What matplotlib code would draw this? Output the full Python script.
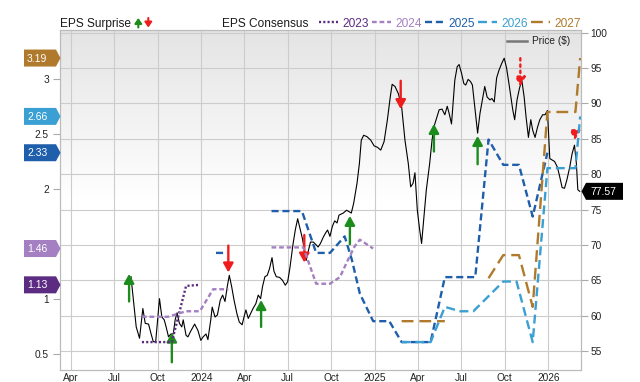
import numpy as np
import pandas as pd
import matplotlib
matplotlib.use('Agg')
import matplotlib.pyplot as plt
import matplotlib.dates as mdates
from matplotlib.ticker import FuncFormatter
from matplotlib.patches import Polygon, FancyArrowPatch
from matplotlib.lines import Line2D

plt.rcParams['font.family'] = ['Liberation Sans', 'DejaVu Sans']

# ---- price ($), right axis ----
price_dates = [
    "2023-08-06", "2023-08-17", "2023-08-24", "2023-08-31", "2023-09-05", "2023-09-12", "2023-09-17", "2023-09-22", "2023-09-27", "2023-10-01",
    "2023-10-05", "2023-10-10", "2023-10-15", "2023-10-19", "2023-10-24", "2023-10-29", "2023-11-03", "2023-11-07", "2023-11-11", "2023-11-16",
    "2023-11-21", "2023-11-24", "2023-11-30", "2023-12-04", "2023-12-09", "2023-12-18", "2023-12-25", "2023-12-31", "2024-01-05", "2024-01-11",
    "2024-01-15", "2024-01-21", "2024-01-24", "2024-01-30", "2024-02-04", "2024-02-10", "2024-02-15", "2024-02-20", "2024-02-25", "2024-02-29",
    "2024-03-05", "2024-03-10", "2024-03-16", "2024-03-21", "2024-03-27", "2024-03-31", "2024-04-04", "2024-04-09", "2024-04-14", "2024-04-19",
    "2024-04-25", "2024-04-30", "2024-05-05", "2024-05-09", "2024-05-14", "2024-05-19", "2024-05-24", "2024-05-29", "2024-06-02", "2024-06-07",
    "2024-06-14", "2024-06-20", "2024-06-26", "2024-07-01", "2024-07-06", "2024-07-12", "2024-07-17", "2024-07-22", "2024-07-27", "2024-08-01",
    "2024-08-06", "2024-08-09", "2024-08-14", "2024-08-18", "2024-08-24", "2024-08-30", "2024-09-03", "2024-09-08", "2024-09-14", "2024-09-19",
    "2024-09-23", "2024-09-28", "2024-10-03", "2024-10-08", "2024-10-13", "2024-10-17", "2024-10-26", "2024-11-02", "2024-11-07", "2024-11-12",
    "2024-11-17", "2024-11-24", "2024-11-29", "2024-12-03", "2024-12-08", "2024-12-15", "2024-12-23", "2024-12-30", "2025-01-06", "2025-01-13",
    "2025-01-20", "2025-01-27", "2025-02-02", "2025-02-06", "2025-02-12", "2025-02-19", "2025-02-26", "2025-03-05", "2025-03-12", "2025-03-17",
    "2025-03-22", "2025-03-26", "2025-03-31", "2025-04-05", "2025-04-09", "2025-04-14", "2025-04-19", "2025-04-26", "2025-05-01", "2025-05-05",
    "2025-05-11", "2025-05-16", "2025-05-22", "2025-05-28", "2025-06-02", "2025-06-06", "2025-06-11", "2025-06-18", "2025-06-23", "2025-06-27",
    "2025-07-02", "2025-07-07", "2025-07-11", "2025-07-16", "2025-07-21", "2025-07-25", "2025-07-30", "2025-08-05", "2025-08-10", "2025-08-15",
    "2025-08-20", "2025-08-25", "2025-08-31", "2025-09-04", "2025-09-09", "2025-09-14", "2025-09-19", "2025-09-25", "2025-09-30", "2025-10-05",
    "2025-10-10", "2025-10-14", "2025-10-18", "2025-10-22", "2025-10-27", "2025-11-01", "2025-11-06", "2025-11-11", "2025-11-15", "2025-11-20",
    "2025-11-25", "2025-11-29", "2025-12-04", "2025-12-09", "2025-12-14", "2025-12-20", "2025-12-25", "2025-12-30", "2026-01-04", "2026-01-09",
    "2026-01-14", "2026-01-20", "2026-01-25", "2026-01-30", "2026-02-04", "2026-02-09", "2026-02-15", "2026-02-20", "2026-02-25", "2026-03-01",
    "2026-03-04", "2026-03-08"]
price_vals = [
    65.5, 58.4, 56.8, 61.0, 58.9, 58.8, 57.5, 56.3, 56.3, 59.4,
    62.4, 59.8, 59.4, 58.4, 57.0, 57.4, 57.4, 59.4, 60.4, 58.9,
    58.4, 59.4, 57.2, 57.0, 57.7, 58.8, 57.9, 56.5, 57.0, 57.4,
    56.6, 59.4, 61.2, 59.8, 60.1, 62.2, 62.9, 62.0, 64.2, 65.7,
    64.1, 62.2, 60.3, 59.1, 58.7, 59.8, 60.8, 59.6, 60.3, 61.0,
    61.7, 62.9, 62.4, 64.1, 65.5, 65.7, 66.7, 68.2, 66.3, 65.5,
    65.4, 65.0, 64.3, 64.8, 66.9, 70.0, 72.1, 73.7, 72.3, 70.9,
    69.0, 67.8, 69.3, 70.4, 70.4, 70.0, 69.7, 70.2, 71.1, 71.7,
    72.1, 71.2, 72.6, 73.4, 73.1, 74.2, 74.5, 74.9, 74.7, 74.5,
    75.9, 78.7, 81.5, 84.8, 85.5, 85.3, 84.8, 84.0, 83.8, 83.4,
    84.6, 87.7, 90.9, 92.7, 92.4, 91.4, 89.5, 84.8, 81.5, 78.2,
    78.7, 80.2, 74.9, 72.1, 70.2, 74.0, 77.8, 81.5, 84.8, 86.7,
    88.0, 89.1, 89.2, 88.4, 89.6, 88.6, 87.1, 93.3, 95.2, 95.5,
    94.3, 92.8, 92.6, 93.4, 93.1, 92.6, 89.5, 85.8, 88.6, 90.5,
    92.4, 90.9, 90.5, 90.7, 90.2, 93.6, 94.7, 95.7, 96.4, 95.0,
    92.8, 90.9, 89.1, 87.7, 90.5, 92.1, 93.3, 90.9, 88.1, 85.2,
    87.7, 86.2, 85.2, 86.6, 87.7, 88.4, 88.4, 89.0, 82.2, 82.0,
    81.8, 81.0, 79.6, 78.1, 78.0, 79.2, 81.0, 82.9, 84.1, 81.5,
    77.8, 77.57]

# ---- EPS consensus per fiscal year, left axis (nan = gap) ----
nan = np.nan
eps23_dates = ["2023-08-29", "2023-10-31", "2023-11-30", "2023-12-29"]
eps23_vals = [0.61, 0.61, 1.12, 1.13]

eps24_dates = ["2023-08-29", "2023-10-23", "2023-11-30", "2023-12-29", "2024-01-26", "2024-02-27", "2024-04-15",
               "2024-05-28", "2024-08-03", "2024-08-30", "2024-09-28", "2024-10-19", "2024-11-02", "2024-11-19",
               "2024-11-30", "2024-12-28"]
eps24_vals = [0.84, 0.84, 0.89, 0.89, 1.09, 1.09, nan, 1.47, 1.47, 1.14, 1.14, 1.20, 1.33, 1.48, 1.54, 1.46]

eps25_dates = ["2024-02-01", "2024-02-24", "2024-04-15", "2024-05-28", "2024-07-31", "2024-08-30", "2024-09-28",
               "2024-10-29", "2024-11-13", "2024-11-30", "2024-12-28", "2025-01-31", "2025-02-26", "2025-04-28",
               "2025-05-28", "2025-07-31", "2025-08-28", "2025-09-28", "2025-10-31", "2025-11-29", "2025-12-30"]
eps25_vals = [1.42, 1.42, nan, 1.80, 1.80, 1.42, 1.42, 1.57, 1.36, 1.05, 0.80, 0.80, 0.61, 0.61,
              1.20, 1.20, 2.45, 2.22, 2.22, 1.75, 2.33]

eps26_dates = ["2025-02-26", "2025-04-28", "2025-05-28", "2025-06-29", "2025-07-27", "2025-09-28", "2025-10-26",
               "2025-11-29", "2025-12-30", "2026-02-27", "2026-03-09"]
eps26_vals = [0.61, 0.61, 0.93, 0.89, 0.89, 1.16, 1.16, 0.61, 2.19, 2.19, 2.66]

eps27_dates = ["2025-02-26", "2025-05-28", "2025-07-15", "2025-08-28", "2025-09-28", "2025-10-31", "2025-11-29",
               "2025-12-30", "2026-02-27", "2026-03-09"]
eps27_vals = [0.80, 0.80, nan, 1.19, 1.40, 1.40, 0.93, 2.70, 2.70, 3.19]

years = ["2023", "2024", "2025", "2026", "2027"]

# ---- EPS surprise arrows (price at tail / tip) ----
surprise_dates = ["2023-08-02", "2023-10-31", "2024-02-27", "2024-05-06", "2024-08-05", "2024-11-09",
                  "2025-02-24", "2025-05-05", "2025-08-05", "2025-11-03", "2026-02-26"]
surprise_tail = [62.0, 53.4, 69.9, 58.4, 71.4, 70.1, 93.2, 83.2, 81.4, 96.4, 86.0]
surprise_tip = [65.9, 57.6, 66.1, 62.2, 67.5, 74.1, 89.2, 87.1, 85.4, 92.4, 84.8]
surprise_kind = ["beat", "beat", "miss", "beat", "miss", "beat", "miss", "beat", "beat", "miss_est", "miss_est"]

# styles
colors = {"2023": "#5b2c82", "2024": "#a47fc1", "2025": "#1f5eab", "2026": "#3a9fd2", "2027": "#b07a2c"}
dashes = {"2023": (0, (0.9, 0.9)), "2024": (0, (2, 1.2)), "2025": (0, (3, 1.6)),
          "2026": (0, (3.8, 2)), "2027": (0, (5, 2.5))}
GREEN = "#1c8c1c"
RED = "#ee1c1c"

W, H = 640, 382
fig = plt.figure(figsize=(W / 100, H / 100), dpi=100)


def px(x, y):
    # pixel position (from top-left) to figure fraction
    return x / W, 1 - y / H


pos = [60 / W, 1 - 369.5 / H, 520.7 / W, (369.5 - 30.3) / H]

# gray-to-white background
bg = fig.add_axes(pos, zorder=-1)
t = np.clip((np.linspace(0, 1, 200) - 0.5) / 0.5, 0, 1)
shade = 1 - t * 0.105
bg.imshow(np.dstack([shade, shade, shade]).reshape(200, 1, 3), aspect='auto', origin='lower', extent=[0, 1, 0, 1])
bg.axis('off')

ax = fig.add_axes(pos)
ax.patch.set_visible(False)
ax2 = ax.twinx()

# price
pdates = pd.to_datetime(price_dates)
ax.plot(pdates, price_vals, color='black', lw=0.8, zorder=3)

for d, a, b, k in zip(pd.to_datetime(surprise_dates), surprise_tail, surprise_tip, surprise_kind):
    c = GREEN if k == "beat" else RED
    ls = ':' if k.endswith('est') else '-'
    ax.annotate('', xy=(mdates.date2num(d), b), xytext=(mdates.date2num(d), a),
                arrowprops=dict(arrowstyle='-|>,head_length=0.45,head_width=0.25', color=c, lw=1.7,
                                ls=ls, shrinkA=0, shrinkB=0, mutation_scale=12), zorder=4)

# EPS consensus lines
for y, dts, vals in zip(years, [eps23_dates, eps24_dates, eps25_dates, eps26_dates, eps27_dates],
                        [eps23_vals, eps24_vals, eps25_vals, eps26_vals, eps27_vals]):
    ax2.plot(pd.to_datetime(dts), vals, color=colors[y], lw=1.7, ls=dashes[y])

ax.set_xlim(pd.Timestamp("2023-03-09 12:00"), pd.Timestamp("2026-03-10 02:00"))
ax.set_ylim(52.38, 100.34)
ax2.set_ylim(0.361, 3.442)

ax.xaxis.set_major_locator(mdates.MonthLocator(bymonth=[1, 4, 7, 10]))
ax.xaxis.set_major_formatter(FuncFormatter(
    lambda v, p: str(mdates.num2date(v).year) if mdates.num2date(v).month == 1 else mdates.num2date(v).strftime('%b')))
ax.set_yticks(range(55, 101, 5))
ax2.set_yticks([0.5, 1, 2, 2.5, 3])
ax2.yaxis.set_major_formatter(FuncFormatter(lambda v, p: f'{v:g}'))

ax.yaxis.tick_right()
ax2.yaxis.tick_left()
ax.grid(True, color='#cccccc', lw=0.8)
ax.set_axisbelow(True)
ax.tick_params(axis='x', length=0, pad=2.5, labelsize=7.3, labelcolor='#222222')
ax.tick_params(axis='y', length=5, width=0.8, color='#aaaaaa', pad=2, labelsize=7.3, labelcolor='#222222')
ax2.tick_params(axis='y', length=5, width=0.8, color='#aaaaaa', pad=3, labelsize=7.3, labelcolor='#222222')
for a in (ax, ax2):
    for s in a.spines.values():
        s.set_color('#bbbbbb')
        s.set_linewidth(0.8)

# price legend inside the plot
fig.add_artist(Line2D([507 / W, 527 / W], [1 - 41 / H, 1 - 41 / H], color='#777777', lw=1.8))
fig.text(*px(532, 41), 'Price ($)', fontsize=7.3, va='center', ha='left', color='#222222')

# header legend
fig.text(*px(60, 27), 'EPS Surprise', fontsize=8.6, va='baseline', ha='left', color='#1a1a1a')
fig.add_artist(FancyArrowPatch(px(138.3, 27.5), px(138.3, 18), transform=fig.transFigure, color=GREEN,
                               arrowstyle='-|>,head_length=0.5,head_width=0.35', lw=1.5, mutation_scale=6,
                               shrinkA=0, shrinkB=0))
fig.add_artist(FancyArrowPatch(px(148.3, 18), px(148.3, 27.5), transform=fig.transFigure, color=RED,
                               arrowstyle='-|>,head_length=0.5,head_width=0.35', lw=1.5, mutation_scale=6,
                               shrinkA=0, shrinkB=0))
fig.text(*px(222, 27), 'EPS Consensus', fontsize=8.6, va='baseline', ha='left', color='#1a1a1a')
for y, x0 in zip(years, [319, 372, 425, 478, 531]):
    fig.add_artist(Line2D([x0 / W, (x0 + 19) / W], [1 - 22.3 / H] * 2, color=colors[y], lw=1.7, ls=dashes[y]))
    fig.text(*px(x0 + 23, 27), y, fontsize=8.6, va='baseline', ha='left', color=colors[y])

# value badges
last_eps = [eps23_vals[-1], eps24_vals[-1], eps25_vals[-1], eps26_vals[-1], eps27_vals[-1]]
for y, v in zip(years, last_eps):
    yc = H - ax2.transData.transform((0, v))[1]
    verts = [px(24, yc - 8.5), px(56, yc - 8.5), px(60.5, yc), px(56, yc + 8.5), px(24, yc + 8.5)]
    fig.add_artist(Polygon(verts, closed=True, transform=fig.transFigure, fc=colors[y], ec='none'))
    fig.text(*px(27, yc + 0.5), f'{v:.2f}', fontsize=7.5, va='center', ha='left', color='white')

yc = H - ax.transData.transform((0, price_vals[-1]))[1]
verts = [px(581.5, yc), px(586, yc - 8.5), px(623, yc - 8.5), px(623, yc + 8.5), px(586, yc + 8.5)]
fig.add_artist(Polygon(verts, closed=True, transform=fig.transFigure, fc='black', ec='none'))
fig.text(*px(590, yc + 0.5), f'{price_vals[-1]:.2f}', fontsize=7.5, va='center', ha='left', color='white')

fig.savefig('out.png', dpi=100)
